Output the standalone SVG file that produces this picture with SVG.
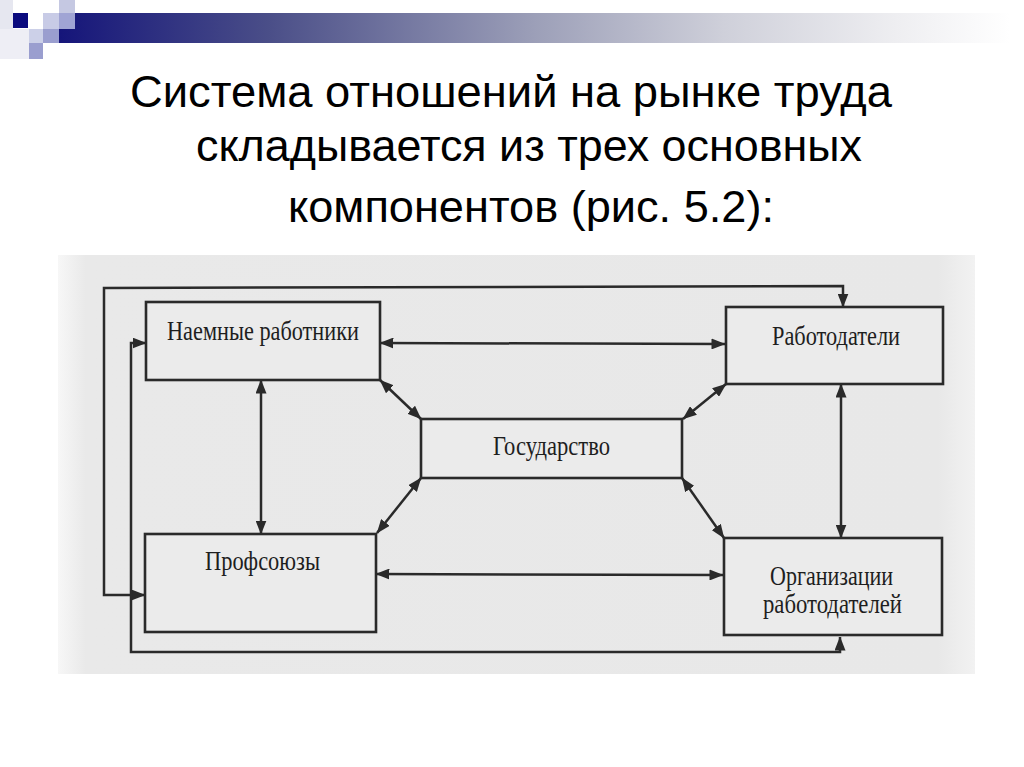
<svg xmlns="http://www.w3.org/2000/svg" width="1024" height="767" viewBox="0 0 1024 767">
<defs>
  <linearGradient id="bar" x1="59" y1="0" x2="1010" y2="0" gradientUnits="userSpaceOnUse">
    <stop offset="0" stop-color="#15157a"/>
    <stop offset="0.22" stop-color="#4a4e88"/>
    <stop offset="0.5" stop-color="#9c9fb8"/>
    <stop offset="0.7" stop-color="#cfd0da"/>
    <stop offset="0.88" stop-color="#eeeef1"/>
    <stop offset="1" stop-color="#ffffff"/>
  </linearGradient>
  <linearGradient id="scan" x1="58" y1="0" x2="975" y2="0" gradientUnits="userSpaceOnUse">
    <stop offset="0" stop-color="#f7f7f7"/>
    <stop offset="0.03" stop-color="#e9e9e9"/>
    <stop offset="0.96" stop-color="#e8e8e8"/>
    <stop offset="1" stop-color="#f2f2f2"/>
  </linearGradient>
  <marker id="ah" viewBox="0 0 14 11" markerUnits="userSpaceOnUse" markerWidth="14" markerHeight="11" refX="13.5" refY="5.5" orient="auto-start-reverse">
    <path d="M0,0 L14,5.5 L0,11 z" fill="#2a2a2a"/>
  </marker>
</defs>
<style>
  .box{fill:#ebebeb;stroke:#2a2a2a;stroke-width:2.6}
  .lbl{font-family:"Liberation Serif","Times New Roman",serif;font-size:28px;fill:#1e1e1e}
  .title{font-family:"Liberation Sans",Arial,sans-serif;font-size:45px;fill:#000}
  #connectors path{fill:none;stroke:#2a2a2a;stroke-width:2.5;marker-start:url(#ah);marker-end:url(#ah)}
</style>
<rect width="1024" height="767" fill="#ffffff"/>

<g id="decoration">
  <rect x="0" y="0" width="13" height="29" fill="#e6e7f0"/>
  <rect x="0" y="29" width="29" height="30" fill="#eeeef5"/>
  <rect x="59" y="13" width="951" height="30" fill="url(#bar)"/>
  <rect x="13" y="13" width="15" height="15" fill="#0b0b7e"/>
  <rect x="59" y="0" width="16" height="13" fill="#c5c8e2"/>
  <rect x="59" y="13" width="16" height="16" fill="#a0a4d4"/>
  <rect x="43" y="13" width="16" height="16" fill="#c8cbe6"/>
  <rect x="43" y="29" width="16" height="14" fill="#9a9ecf"/>
  <rect x="29" y="29" width="14" height="14" fill="#ccd0e8"/>
  <rect x="29" y="43" width="14" height="16" fill="#9a9ecf"/>
</g>

<g id="title">
  <text class="title" x="130" y="107" textLength="762" lengthAdjust="spacingAndGlyphs">Система отношений на рынке труда</text>
  <text class="title" x="196" y="161" textLength="666" lengthAdjust="spacingAndGlyphs">складывается из трех основных</text>
  <text class="title" x="288" y="222" textLength="486" lengthAdjust="spacingAndGlyphs">компонентов (рис. 5.2):</text>
</g>

<rect id="scan-bg" x="58" y="255" width="917" height="419" fill="url(#scan)"/>

<g id="connectors">
  <path d="M145,595 L104,595 L104,288 L843,286 L843,307"/>
  <path d="M146,343 L131,343 L131,652 L840,652 L840,637"/>
  <path d="M380,343 L725,344"/>
  <path d="M261,380 L261,534"/>
  <path d="M841,384 L841,538"/>
  <path d="M376,574 L723,575"/>
  <path d="M380,380 L421,419"/>
  <path d="M726,384 L683,419"/>
  <path d="M421,478 L377,533"/>
  <path d="M682,478 L724,538"/>
</g>

<g id="node-naemnye">
  <rect class="box" x="146" y="302" width="234" height="78"/>
  <text class="lbl" x="167" y="340" textLength="192" lengthAdjust="spacingAndGlyphs">Наемные работники</text>
</g>
<g id="node-rabotodateli">
  <rect class="box" x="726" y="307" width="217" height="77"/>
  <text class="lbl" x="772" y="345" textLength="128" lengthAdjust="spacingAndGlyphs">Работодатели</text>
</g>
<g id="node-gosudarstvo">
  <rect class="box" x="421" y="419" width="261" height="59"/>
  <text class="lbl" x="493" y="455" textLength="117" lengthAdjust="spacingAndGlyphs">Государство</text>
</g>
<g id="node-profsoyuzy">
  <rect class="box" x="145" y="534" width="231" height="98"/>
  <text class="lbl" x="205" y="570" textLength="115" lengthAdjust="spacingAndGlyphs">Профсоюзы</text>
</g>
<g id="node-organizacii">
  <rect class="box" x="724" y="538" width="218" height="97"/>
  <text class="lbl" x="770" y="585" textLength="123" lengthAdjust="spacingAndGlyphs">Организации</text>
  <text class="lbl" x="763" y="613" textLength="139" lengthAdjust="spacingAndGlyphs">работодателей</text>
</g>
</svg>
